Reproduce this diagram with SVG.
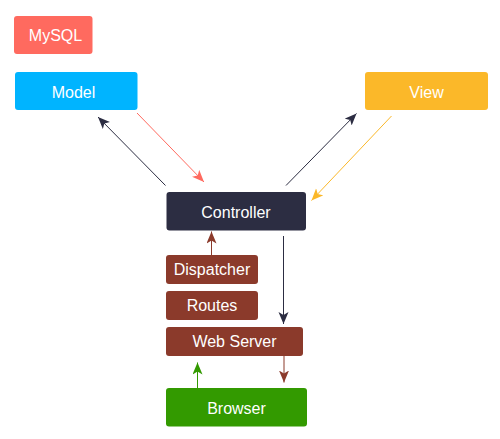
<svg xmlns="http://www.w3.org/2000/svg" width="500" height="439" viewBox="0 0 500 439">
<style>
.t{font-family:"Liberation Sans",Arial,sans-serif;font-size:16px;fill:#fff;text-anchor:middle;dominant-baseline:central}
.c{fill:none;stroke-width:1}
</style>
<defs>
<marker id="aDark" markerUnits="userSpaceOnUse" markerWidth="14" markerHeight="12" refX="12" refY="5" orient="auto"><path d="M0,0 L12,5 L0,10 L3,5 z" fill="#2C2D42"/></marker>
<marker id="aRed" markerUnits="userSpaceOnUse" markerWidth="14" markerHeight="12" refX="12" refY="5" orient="auto"><path d="M0,0 L12,5 L0,10 L3,5 z" fill="#FF6A5F"/></marker>
<marker id="aYel" markerUnits="userSpaceOnUse" markerWidth="14" markerHeight="12" refX="12" refY="5" orient="auto"><path d="M0,0 L12,5 L0,10 L3,5 z" fill="#FBB829"/></marker>
<marker id="aBrn" markerUnits="userSpaceOnUse" markerWidth="14" markerHeight="12" refX="12" refY="5" orient="auto"><path d="M0,0 L12,5 L0,10 L3,5 z" fill="#8B3A2B"/></marker>
<marker id="aGrn" markerUnits="userSpaceOnUse" markerWidth="14" markerHeight="12" refX="12" refY="5" orient="auto"><path d="M0,0 L12,5 L0,10 L3,5 z" fill="#339A00"/></marker>
</defs>
<g id="connectors">
<line class="c" x1="165.5" y1="185.5" x2="98" y2="117" stroke="#2C2D42" marker-end="url(#aDark)"/>
<line class="c" x1="137" y1="113" x2="204" y2="182" stroke="#FF6A5F" marker-end="url(#aRed)"/>
<line class="c" x1="286" y1="185.5" x2="356.5" y2="113.5" stroke="#2C2D42" marker-end="url(#aDark)"/>
<line class="c" x1="391.5" y1="116" x2="311.5" y2="200.5" stroke="#FBB829" marker-end="url(#aYel)"/>
<line class="c" x1="283.5" y1="236" x2="283.5" y2="324" stroke="#2C2D42" marker-end="url(#aDark)"/>
<line class="c" x1="211.5" y1="255" x2="211.5" y2="231.5" stroke="#8B3A2B" marker-end="url(#aBrn)"/>
<line class="c" x1="284" y1="356" x2="284" y2="382.5" stroke="#8B3A2B" marker-end="url(#aBrn)"/>
<line class="c" x1="197.5" y1="388" x2="197.5" y2="362.5" stroke="#339A00" marker-end="url(#aGrn)"/>
</g>
<g id="mysql"><rect x="14" y="16" width="78.5" height="38" rx="3" fill="#FF6A5F"/><text class="t" x="55.5" y="35">MySQL</text></g>
<g id="model"><rect x="15" y="72" width="122.5" height="38" rx="3" fill="#00B4FF"/><text class="t" x="73.5" y="92">Model</text></g>
<g id="view"><rect x="365" y="72" width="123" height="38" rx="3" fill="#FBB829"/><text class="t" x="426.5" y="92">View</text></g>
<g id="controller"><rect x="166.5" y="192" width="139.5" height="38.5" rx="3" fill="#2C2D42"/><text class="t" x="236" y="212">Controller</text></g>
<g id="dispatcher"><rect x="166" y="255" width="92" height="29" rx="3" fill="#8B3A2B"/><text class="t" x="212" y="269.5">Dispatcher</text></g>
<g id="routes"><rect x="166" y="291" width="92" height="29" rx="3" fill="#8B3A2B"/><text class="t" x="212" y="305.5">Routes</text></g>
<g id="webserver"><rect x="166" y="327" width="137" height="29" rx="3" fill="#8B3A2B"/><text class="t" x="234.5" y="341.5">Web Server</text></g>
<g id="browser"><rect x="166" y="388" width="141" height="38.5" rx="3" fill="#339A00"/><text class="t" x="236.5" y="408">Browser</text></g>
</svg>
